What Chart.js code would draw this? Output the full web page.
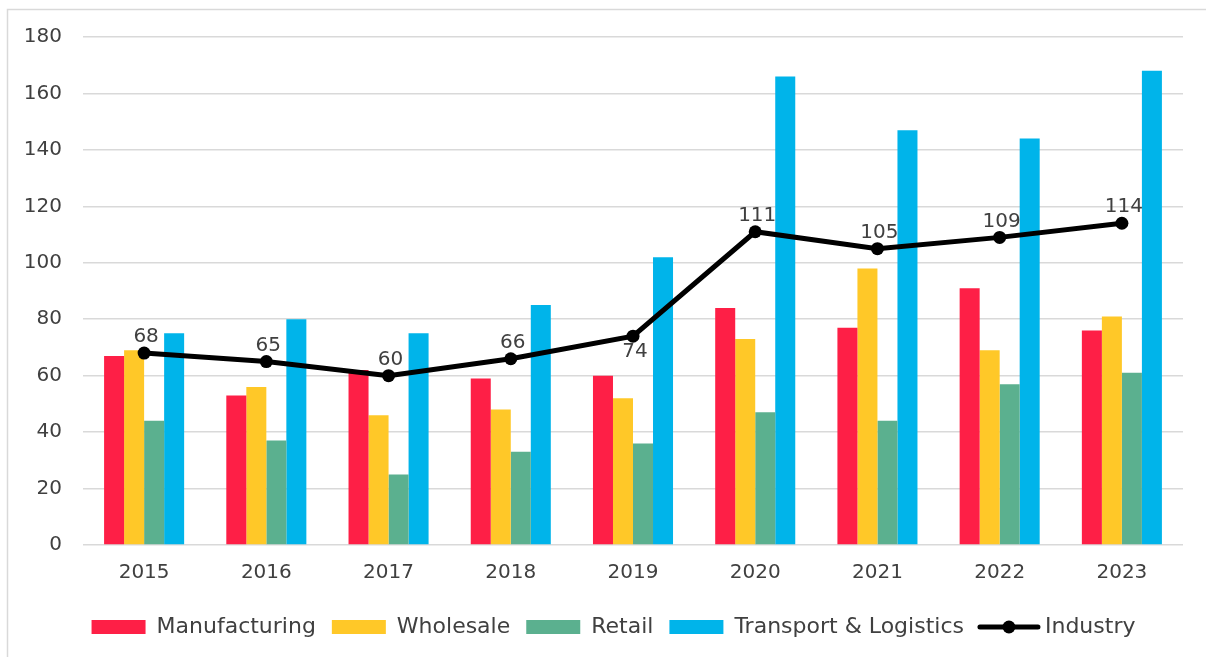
<!DOCTYPE html>
<html>
<head>
<meta charset="utf-8">
<script src="https://cdn.jsdelivr.net/npm/chart.js@4.4.1/dist/chart.umd.min.js"></script>
<style>
html,body{margin:0;padding:0;background:#fff;}
#wrap{width:1206px;height:657px;position:relative;}
</style>
</head>
<body>
<div id="wrap"><canvas id="c" width="1206" height="657"></canvas></div>
<script>
const years = ['2015','2016','2017','2018','2019','2020','2021','2022','2023'];
const manufacturing = [67, 53, 62, 59, 60, 84, 77, 91, 76];
const wholesale = [69, 56, 46, 48, 52, 73, 98, 69, 81];
const retail = [44, 37, 25, 33, 36, 47, 44, 57, 61];
const transport = [75, 80, 75, 85, 102, 166, 147, 144, 168];
const industry = [68, 65, 60, 66, 74, 111, 105, 109, 114];
const yTicks = [0, 20, 40, 60, 80, 100, 120, 140, 160, 180];

const FONT = '"DejaVu Sans", Lato, sans-serif';
const TEXT = '#404040';
const GRID = '#D9D9D9';

const frame = {
  id: 'frame',
  beforeDraw(chart) {
    const ctx = chart.ctx;
    ctx.save();
    ctx.strokeStyle = GRID;
    ctx.lineWidth = 1.5;
    ctx.beginPath();
    ctx.moveTo(7.5, 657);
    ctx.lineTo(7.5, 9.5);
    ctx.lineTo(1206, 9.5);
    ctx.stroke();
    ctx.restore();
  },
  afterLayout(chart) {
    const lg = chart.legend;
    if (lg) { lg.left += 22; lg.right += 22; }
  }
};

const valueLabels = {
  id: 'valueLabels',
  afterDatasetsDraw(chart) {
    const ctx = chart.ctx;
    const idx = chart.data.datasets.findIndex(d => d.type === 'line');
    const meta = chart.getDatasetMeta(idx);
    const data = chart.data.datasets[idx].data;
    ctx.save();
    ctx.font = '20px ' + FONT;
    ctx.fillStyle = TEXT;
    ctx.textAlign = 'center';
    ctx.textBaseline = 'middle';
    meta.data.forEach((pt, i) => {
      const below = i > 0 && i < data.length - 1 && data[i + 1] - data[i] > 20;
      ctx.fillText(String(data[i]), pt.x + 2, pt.y + (below ? 16 : -16));
    });
    ctx.restore();
  },
  afterDraw(chart) {
    const lg = chart.legend;
    if (!lg || !lg.legendItems) return;
    const ctx = chart.ctx;
    lg.legendItems.forEach((item, k) => {
      const ds = chart.data.datasets[item.datasetIndex];
      if (ds.type !== 'line') return;
      const hb = lg.legendHitBoxes[k];
      const bw = lg.options.labels.boxWidth;
      const cy = hb.top + hb.height / 2;
      ctx.save();
      ctx.strokeStyle = '#000';
      ctx.lineWidth = 5;
      ctx.lineCap = 'round';
      ctx.beginPath();
      ctx.moveTo(hb.left, cy);
      ctx.lineTo(hb.left + bw + 4, cy);
      ctx.stroke();
      ctx.fillStyle = '#000';
      ctx.beginPath();
      ctx.arc(hb.left + (bw + 4) / 2, cy, 6.5, 0, Math.PI * 2);
      ctx.fill();
      ctx.restore();
    });
  }
};

new Chart(document.getElementById('c'), {
  data: {
    labels: years,
    datasets: [
      { type: 'bar', label: 'Manufacturing', data: manufacturing, backgroundColor: '#FE1F46', order: 1 },
      { type: 'bar', label: 'Wholesale', data: wholesale, backgroundColor: '#FFC828', order: 1 },
      { type: 'bar', label: 'Retail', data: retail, backgroundColor: '#5BB08F', order: 1 },
      { type: 'bar', label: 'Transport & Logistics', data: transport, backgroundColor: '#00B4EA', order: 1 },
      { type: 'line', label: 'Industry', data: industry, borderColor: '#000', backgroundColor: '#000',
        borderWidth: 5, pointRadius: 6.5, pointHoverRadius: 6.5, pointBackgroundColor: '#000',
        pointBorderWidth: 0, tension: 0, order: 0 }
    ]
  },
  options: {
    responsive: false,
    animation: false,
    devicePixelRatio: 1,
    datasets: { bar: { categoryPercentage: 0.655, barPercentage: 1.0, borderWidth: 0 } },
    layout: { padding: { left: 0, right: 23, top: 37, bottom: 9 } },
    scales: {
      x: {
        grid: { display: false, drawTicks: false },
        border: { display: false },
        ticks: { color: TEXT, font: { family: FONT, size: 20 }, padding: 16 },
        afterFit(s) { s.height = 55; }
      },
      y: {
        min: 0, max: 180,
        afterBuildTicks(s) { s.ticks = yTicks.map(v => ({ value: v })); },
        grid: { color: GRID, lineWidth: 1.5, drawTicks: false },
        border: { display: false },
        ticks: { color: TEXT, font: { family: FONT, size: 20 }, padding: 21 },
        afterFit(s) { s.width = 83; }
      }
    },
    plugins: {
      tooltip: { enabled: false },
      legend: {
        position: 'bottom',
        labels: {
          color: TEXT,
          font: { family: FONT, size: 22 },
          boxWidth: 54,
          boxHeight: 14,
          padding: 16,
          sort: (a, b) => a.datasetIndex - b.datasetIndex,
          generateLabels(chart) {
            const items = Chart.defaults.plugins.legend.labels.generateLabels(chart);
            items.forEach(it => {
              const ds = chart.data.datasets[it.datasetIndex];
              if (ds.type === 'line') {
                it.fillStyle = 'rgba(0,0,0,0)';
                it.strokeStyle = 'rgba(0,0,0,0)';
                it.lineWidth = 0;
              } else {
                it.lineWidth = 0;
              }
            });
            return items;
          }
        }
      }
    }
  },
  plugins: [frame, valueLabels]
});
</script>
</body>
</html>
